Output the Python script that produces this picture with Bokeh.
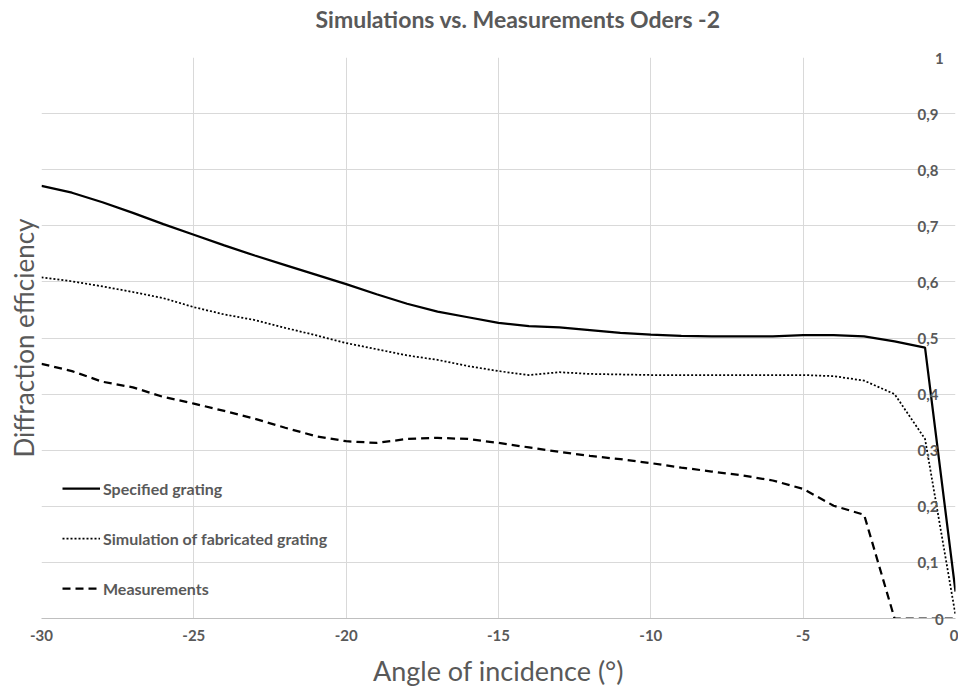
from bokeh.plotting import figure
from bokeh.models import FixedTicker, Grid, Legend, LegendItem, LinearAxis, Title
from bokeh.embed import file_html
from bokeh.resources import INLINE

angles = [-30, -29, -28, -27, -26, -25, -24, -23, -22, -21, -20, -19, -18, -17, -16,
          -15, -14, -13, -12, -11, -10, -9, -8, -7, -6, -5, -4, -3, -2, -1, 0]
specified = [0.771, 0.759, 0.742, 0.723, 0.703, 0.684, 0.665, 0.647, 0.630, 0.613, 0.596,
             0.578, 0.561, 0.547, 0.537, 0.527, 0.521, 0.519, 0.514, 0.509, 0.506, 0.504,
             0.503, 0.503, 0.503, 0.505, 0.505, 0.503, 0.494, 0.483, 0.048]
simulation = [0.608, 0.601, 0.592, 0.582, 0.571, 0.555, 0.542, 0.532, 0.518, 0.505, 0.491,
              0.480, 0.469, 0.461, 0.450, 0.441, 0.434, 0.439, 0.436, 0.435, 0.434, 0.434,
              0.434, 0.434, 0.434, 0.434, 0.432, 0.424, 0.400, 0.320, 0.006]
measurements = [0.454, 0.441, 0.422, 0.412, 0.395, 0.383, 0.370, 0.356, 0.340, 0.325, 0.316,
                0.313, 0.320, 0.322, 0.320, 0.313, 0.305, 0.297, 0.290, 0.284, 0.277, 0.269,
                0.262, 0.255, 0.246, 0.231, 0.201, 0.185, 0.0, 0.0, 0.0]

x_ticks = [-30, -25, -20, -15, -10, -5, 0]
x_tick_labels = ["-30", "-25", "-20", "-15", "-10", "-5", "0"]
y_ticks = [0, 0.1, 0.2, 0.3, 0.4, 0.5, 0.6, 0.7, 0.8, 0.9, 1.0]
y_tick_labels = ["0", "0,1", "0,2", "0,3", "0,4", "0,5", "0,6", "0,7", "0,8", "0,9", "1"]
chart_title = "Simulations vs. Measurements Oders -2"

FONT = "Lato"
GRAY = "#595959"
GRID = "#d9d9d9"
FIGSPACE = "\u2007"

p = figure(width=958, height=689, output_backend="svg", toolbar_location=None, title=None,
           x_range=(-30, 0), y_range=(0, 1), y_axis_location="left",
           min_border_left=41, min_border_right=3, min_border_top=57, min_border_bottom=69)
p.outline_line_color = None
p.background_fill_color = "white"
p.border_fill_color = "white"

# spacer panel between the frame and the title
spacer = Title(text=" ", text_font=FONT, text_font_size="14px", standoff=4)
p.add_layout(spacer, "above")
main_title = Title(text=chart_title, text_font=FONT, text_font_size="23px",
                   text_font_style="bold", text_color=GRAY, align="left",
                   offset=274, standoff=4)
p.add_layout(main_title, "above")

ax = p.xaxis[0]
ax.ticker = FixedTicker(ticks=x_ticks)
ax.major_label_overrides = {t: l for t, l in zip(x_ticks, x_tick_labels)}
ax.major_tick_line_color = None
ax.minor_tick_line_color = None
ax.axis_line_color = "#bfbfbf"
ax.major_label_text_font = FONT
ax.major_label_text_font_size = "15px"
ax.major_label_text_font_style = "bold"
ax.major_label_text_color = GRAY
ax.major_label_standoff = 5
ax.axis_label = "Angle of incidence (°)"
ax.axis_label_text_font = FONT
ax.axis_label_text_font_size = "27px"
ax.axis_label_text_font_style = "normal"
ax.axis_label_text_color = GRAY
ax.axis_label_standoff = 10

ay = p.yaxis[0]
ay.ticker = FixedTicker(ticks=[])
ay.major_tick_line_color = None
ay.minor_tick_line_color = None
ay.axis_line_color = None
ay.major_label_text_font_size = "0px"
ay.axis_label = "Diffraction efficiency"
ay.axis_label_text_font = FONT
ay.axis_label_text_font_size = "26px"
ay.axis_label_text_font_style = "normal"
ay.axis_label_text_color = GRAY
ay.axis_label_standoff = 2

# value axis on the right, labels pulled inside the plot area (right-aligned look)
ry = LinearAxis(ticker=FixedTicker(ticks=y_ticks),
                major_label_overrides={t: l.rjust(3, FIGSPACE) if len(l) == 1 else l
                                       for t, l in zip(y_ticks, y_tick_labels)},
                axis_line_color=None, major_tick_line_color=None, minor_tick_line_color=None,
                major_tick_out=0, major_tick_in=0, major_label_standoff=-38,
                major_label_text_font=FONT, major_label_text_font_size="15px",
                major_label_text_font_style="bold", major_label_text_color=GRAY)
p.add_layout(ry, "right")

p.xgrid.ticker = FixedTicker(ticks=x_ticks)
p.xgrid.grid_line_color = GRID
p.ygrid.grid_line_color = None
ygrid = Grid(dimension=1, ticker=FixedTicker(ticks=y_ticks[1:]), grid_line_color=GRID)
p.add_layout(ygrid)

r1 = p.line(angles, specified, line_color="black", line_width=2.25)
r2 = p.line(angles, simulation, line_color="black", line_width=1.75, line_dash="2 2")
r3 = p.line(angles, measurements, line_color="black", line_width=2.25, line_dash="8 5")

legend = Legend(items=[LegendItem(label="Specified grating", renderers=[r1]),
                       LegendItem(label="Simulation of fabricated grating", renderers=[r2]),
                       LegendItem(label="Measurements", renderers=[r3])],
                location=(21, 20), orientation="vertical",
                background_fill_alpha=0, border_line_color=None,
                padding=0, margin=0, spacing=30, glyph_width=38, glyph_height=20,
                label_height=20, label_standoff=3,
                label_text_font=FONT, label_text_font_size="16px",
                label_text_font_style="bold", label_text_color=GRAY)
p.add_layout(legend, "center")

open("out.html", "w").write(file_html(p, INLINE))
